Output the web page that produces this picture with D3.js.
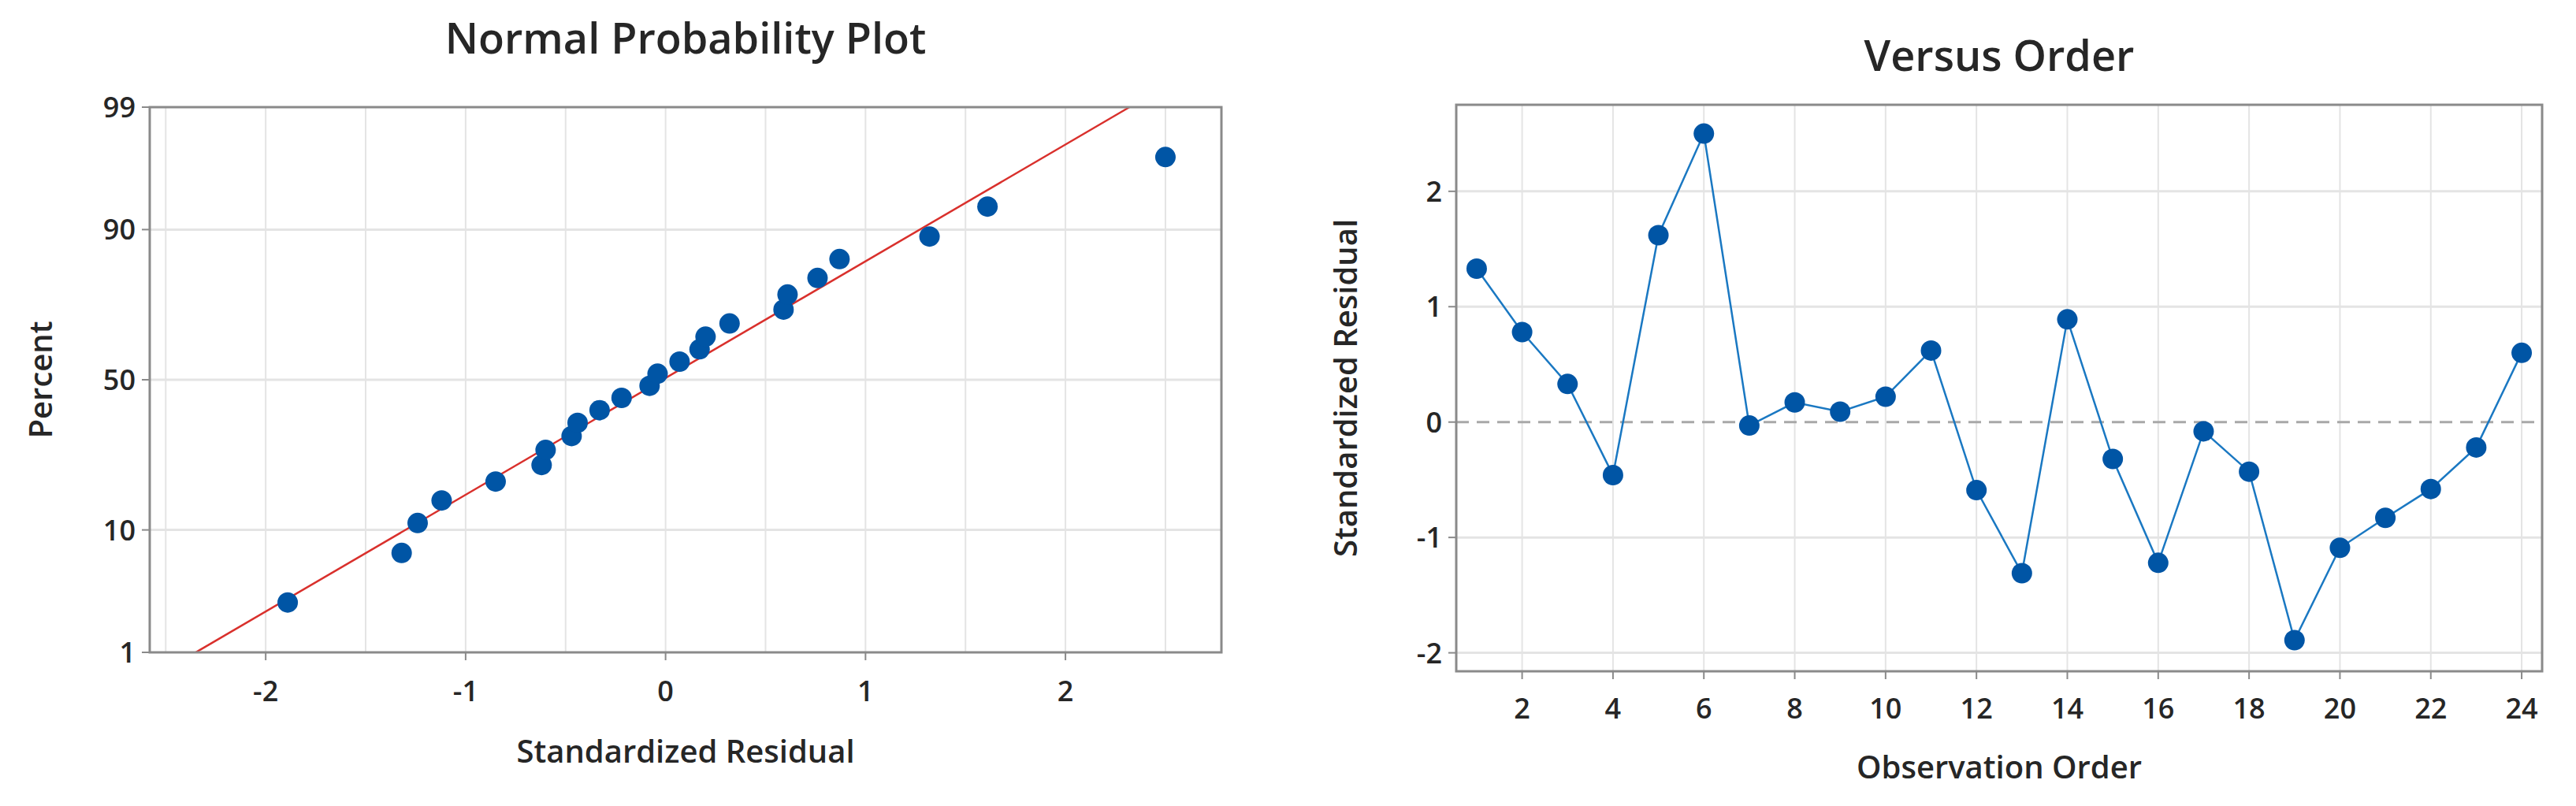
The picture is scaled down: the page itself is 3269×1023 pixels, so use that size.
<!DOCTYPE html>
<html><head><meta charset="utf-8">
<script src="https://cdn.jsdelivr.net/npm/d3@7"></script>
<style>body{margin:0;background:#fff}svg{display:block;font-family:"Open Sans","Noto Sans",sans-serif}</style>
</head><body><svg id="svg" width="3269" height="1023"></svg>
<script>
// residuals in observation order
let orderIdx = d3.range(1, 25);
let residuals = [1.33, 0.78, 0.33, -0.46, 1.62, 2.50, -0.03, 0.17, 0.09, 0.22, 0.62, -0.59,
  -1.31, 0.89, -0.32, -1.22, -0.08, -0.43, -1.89, -1.09, -0.83, -0.58, -0.22, 0.60];
// normal plot: sorted residuals and percent positions
let probX = [-1.89, -1.32, -1.24, -1.12, -0.85, -0.62, -0.60, -0.47, -0.44, -0.33, -0.22, -0.08,
  -0.04, 0.07, 0.17, 0.20, 0.32, 0.59, 0.61, 0.76, 0.87, 1.32, 1.61, 2.50];
let probPct = [2.87, 6.97, 11.07, 15.16, 19.26, 23.36, 27.46, 31.56, 35.66, 39.75, 43.85, 47.95,
  52.05, 56.15, 60.25, 64.34, 68.44, 72.54, 76.64, 80.74, 84.84, 88.93, 93.03, 97.13];
let fitLine = [{x: -2.35, p: 1}, {x: 2.32, p: 99}];
let pctTicks = [1, 10, 50, 90, 99];
let xTicksL = [-2, -1, 0, 1, 2];
let xTicksR = [2, 4, 6, 8, 10, 12, 14, 16, 18, 20, 22, 24];
let yTicksR = [-2, -1, 0, 1, 2];

let svg = d3.select("#svg");
const dotColor = "#0055a5", gridColor = "#e4e4e4", frameColor = "#8a8a8a", textColor = "#262626";

// inverse normal cdf (Acklam)
function qnorm(p) {
  const a = [-39.6968302866538, 220.946098424521, -275.928510446969, 138.357751867269, -30.6647980661472, 2.50662827745924];
  const b = [-54.4760987982241, 161.585836858041, -155.698979859887, 66.8013118877197, -13.2806815528857];
  const c = [-0.00778489400243029, -0.322396458041136, -2.40075827716184, -2.54973253934373, 4.37466414146497, 2.93816398269878];
  const d = [0.00778469570904146, 0.32246712907004, 2.445134137143, 3.75440866190742];
  let q, r;
  if (p < 0.02425) { q = Math.sqrt(-2 * Math.log(p));
    return (((((c[0]*q+c[1])*q+c[2])*q+c[3])*q+c[4])*q+c[5])/((((d[0]*q+d[1])*q+d[2])*q+d[3])*q+1); }
  if (p > 1 - 0.02425) { q = Math.sqrt(-2 * Math.log(1 - p));
    return -(((((c[0]*q+c[1])*q+c[2])*q+c[3])*q+c[4])*q+c[5])/((((d[0]*q+d[1])*q+d[2])*q+d[3])*q+1); }
  q = p - 0.5; r = q * q;
  return (((((a[0]*r+a[1])*r+a[2])*r+a[3])*r+a[4])*r+a[5])*q/(((((b[0]*r+b[1])*r+b[2])*r+b[3])*r+b[4])*r+1);
}

function frame(g, x0, x1, y0, y1) {
  g.append("rect").attr("x", x0).attr("y", y0).attr("width", x1 - x0).attr("height", y1 - y0)
    .attr("fill", "none").attr("stroke", frameColor).attr("stroke-width", 3);
}
function txt(x, y, s, size, anchor, rot) {
  let t = svg.append("text").attr("x", x).attr("y", y).attr("font-size", size)
    .attr("font-weight", 600).attr("fill", textColor).attr("text-anchor", anchor || "middle").text(s);
  if (rot) t.attr("transform", `rotate(-90,${x},${y})`);
  return t;
}

// ---- Left: normal probability plot
let L = {x0: 190, x1: 1550, y0: 136, y1: 828};
let xL = d3.scaleLinear().domain([-2.58, 2.78]).range([L.x0, L.x1]);
let yL = d3.scaleLinear().domain([qnorm(0.01), qnorm(0.99)]).range([L.y1, L.y0]);
let yP = p => yL(qnorm(p / 100));
let gl = svg.append("g");
gl.selectAll(".vg").data(d3.range(-2.5, 2.51, 0.5)).join("line")
  .attr("x1", d => xL(d)).attr("x2", d => xL(d)).attr("y1", L.y0).attr("y2", L.y1)
  .attr("stroke", gridColor).attr("stroke-width", 2);
gl.selectAll(".hg").data([10, 50, 90]).join("line")
  .attr("x1", L.x0).attr("x2", L.x1).attr("y1", d => yP(d)).attr("y2", d => yP(d))
  .attr("stroke", gridColor).attr("stroke-width", 3);
gl.append("line").attr("x1", xL(fitLine[0].x)).attr("y1", yP(fitLine[0].p))
  .attr("x2", xL(fitLine[1].x)).attr("y2", yP(fitLine[1].p))
  .attr("stroke", "#d9302c").attr("stroke-width", 2.5);
gl.selectAll("circle").data(probX).join("circle")
  .attr("cx", d => xL(d)).attr("cy", (d, i) => yP(probPct[i])).attr("r", 13).attr("fill", dotColor);
frame(gl, L.x0, L.x1, L.y0, L.y1);
gl.selectAll(".xt").data(xTicksL).join("line")
  .attr("x1", d => xL(d)).attr("x2", d => xL(d)).attr("y1", L.y1).attr("y2", L.y1 + 10)
  .attr("stroke", frameColor).attr("stroke-width", 2);
xTicksL.forEach(d => txt(xL(d), L.y1 + 62, d < 0 ? "-" + Math.abs(d) : d, 36));
pctTicks.forEach(p => {
  gl.append("line").attr("x1", L.x0 - 10).attr("x2", L.x0).attr("y1", yP(p)).attr("y2", yP(p))
    .attr("stroke", frameColor).attr("stroke-width", 2);
  txt(L.x0 - 18, yP(p) + 13, p, 36, "end");
});
txt((L.x0 + L.x1) / 2, 68, "Normal Probability Plot", 54);
txt((L.x0 + L.x1) / 2, 968, "Standardized Residual", 40);
txt(66, (L.y0 + L.y1) / 2, "Percent", 40, "middle", true);

// ---- Right: versus order
let R = {x0: 1848, x1: 3226, y0: 133, y1: 852};
let xR = d3.scaleLinear().domain([0.55, 24.45]).range([R.x0, R.x1]);
let yR = d3.scaleLinear().domain([-2.16, 2.75]).range([R.y1, R.y0]);
let gr = svg.append("g");
gr.selectAll(".vg").data(xTicksR).join("line")
  .attr("x1", d => xR(d)).attr("x2", d => xR(d)).attr("y1", R.y0).attr("y2", R.y1)
  .attr("stroke", gridColor).attr("stroke-width", 2);
gr.selectAll(".hg").data(yTicksR.filter(d => d !== 0)).join("line")
  .attr("x1", R.x0).attr("x2", R.x1).attr("y1", d => yR(d)).attr("y2", d => yR(d))
  .attr("stroke", gridColor).attr("stroke-width", 3);
gr.append("line").attr("x1", R.x0).attr("x2", R.x1).attr("y1", yR(0)).attr("y2", yR(0))
  .attr("stroke", "#a8a8a8").attr("stroke-width", 3).attr("stroke-dasharray", "16,10");
gr.append("path").datum(residuals)
  .attr("d", d3.line().x((d, i) => xR(orderIdx[i])).y(d => yR(d)))
  .attr("fill", "none").attr("stroke", "#1a78c2").attr("stroke-width", 2.5);
gr.selectAll("circle").data(residuals).join("circle")
  .attr("cx", (d, i) => xR(orderIdx[i])).attr("cy", d => yR(d)).attr("r", 13).attr("fill", dotColor);
frame(gr, R.x0, R.x1, R.y0, R.y1);
xTicksR.forEach(d => {
  gr.append("line").attr("x1", xR(d)).attr("x2", xR(d)).attr("y1", R.y1).attr("y2", R.y1 + 10)
    .attr("stroke", frameColor).attr("stroke-width", 2);
  txt(xR(d), R.y1 + 60, d, 36);
});
yTicksR.forEach(d => {
  gr.append("line").attr("x1", R.x0 - 10).attr("x2", R.x0).attr("y1", yR(d)).attr("y2", yR(d))
    .attr("stroke", frameColor).attr("stroke-width", 2);
  txt(R.x0 - 18, yR(d) + 13, d < 0 ? "-" + Math.abs(d) : d, 36, "end");
});
txt((R.x0 + R.x1) / 2, 90, "Versus Order", 54);
txt((R.x0 + R.x1) / 2, 988, "Observation Order", 40);
txt(1722, (R.y0 + R.y1) / 2, "Standardized Residual", 40, "middle", true);
</script></body></html>
